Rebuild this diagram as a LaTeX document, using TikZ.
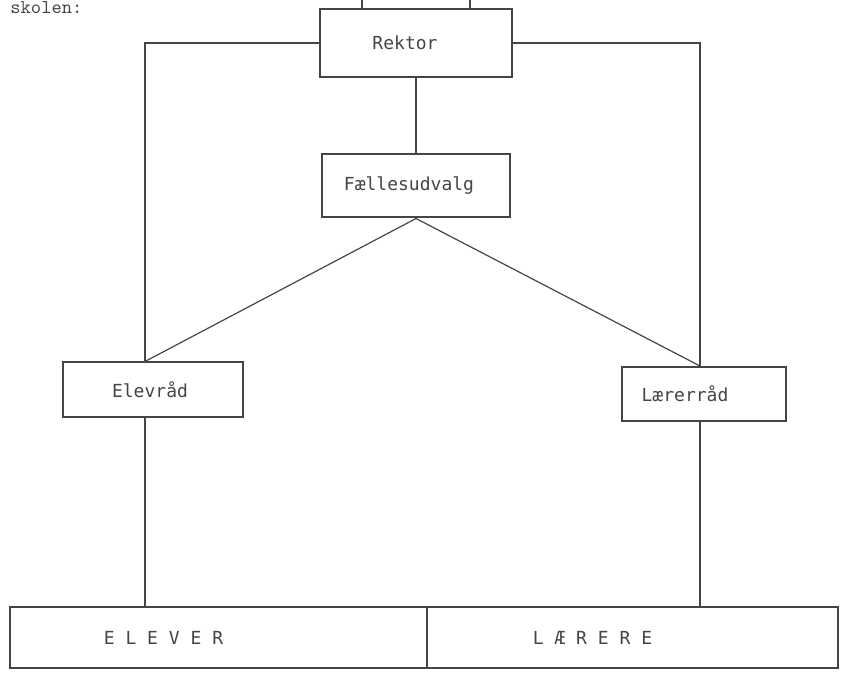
\documentclass[tikz,border=0pt]{standalone}
\usepackage{fontspec}
\usepackage{tikz}
\usetikzlibrary{positioning}
\newfontfamily\boxfont{DejaVu Sans Mono}
\definecolor{ink}{rgb}{0.27, 0.27, 0.27}
\tikzset{orgbox/.style = {draw = ink, line width = 1pt, inner sep = 0pt,
                          font = \fontsize{9}{11}\boxfont, text = ink},
         tshift/.style = {execute at end node = {\hspace*{#1}}},
         link/.style = {draw = ink, line width = 0.6pt}}

\begin{document}
\begin{tikzpicture}[x=0.5pt, y=-0.5pt]
    \useasboundingbox (0, 0) rectangle (846, 673);

    \node [anchor=base west, inner sep=0pt, font=\fontsize{9.8}{10}\ttfamily, text=ink] (title) at (10, 14) {skolen:};

    \node [orgbox, tshift=11pt, minimum width=96pt, minimum height=34pt] (rektor) at (416, 43) {Rektor};
    \node [orgbox, tshift=7pt, minimum width=94pt, minimum height=31.5pt] (faelles) at (416, 186) {Fællesudvalg};
    \node [orgbox, tshift=3pt, minimum width=90pt, minimum height=27.5pt] (elevraad) at (153, 390) {Elevråd};
    \node [orgbox, tshift=19pt, minimum width=82pt, minimum height=27pt] (laererraad) at (704, 394) {Lærerråd};
    \node [orgbox, tshift=55pt, minimum width=208.5pt, minimum height=30.5pt] (elever) at (218.5, 637.5) {E L E V E R};
    \node [orgbox, tshift=40pt, minimum width=205.5pt, minimum height=30.5pt] (laerere) at (632.5, 637.5) {L Æ R E R E};

    \coordinate (elx) at (145, 0);
    \coordinate (lax) at (700, 0);
    \coordinate (topa) at (362, 0);
    \coordinate (topb) at (470, 0);

    \draw [link] (rektor.north -| topa) -- (topa);
    \draw [link] (rektor.north -| topb) -- (topb);

    \draw [link] (rektor.west) -| (elevraad.north -| elx);
    \draw [link] (rektor.east) -| (laererraad.north -| lax);
    \draw [link] (rektor) -- (faelles);

    \draw [link] (faelles.south) -- (elevraad.north -| elx);
    \draw [link] (faelles.south) -- (laererraad.north -| lax);

    \draw [link] (elevraad.south -| elx) -- (elever.north -| elx);
    \draw [link] (laererraad.south -| lax) -- (laerere.north -| lax);
  \end{tikzpicture}
\end{document}
